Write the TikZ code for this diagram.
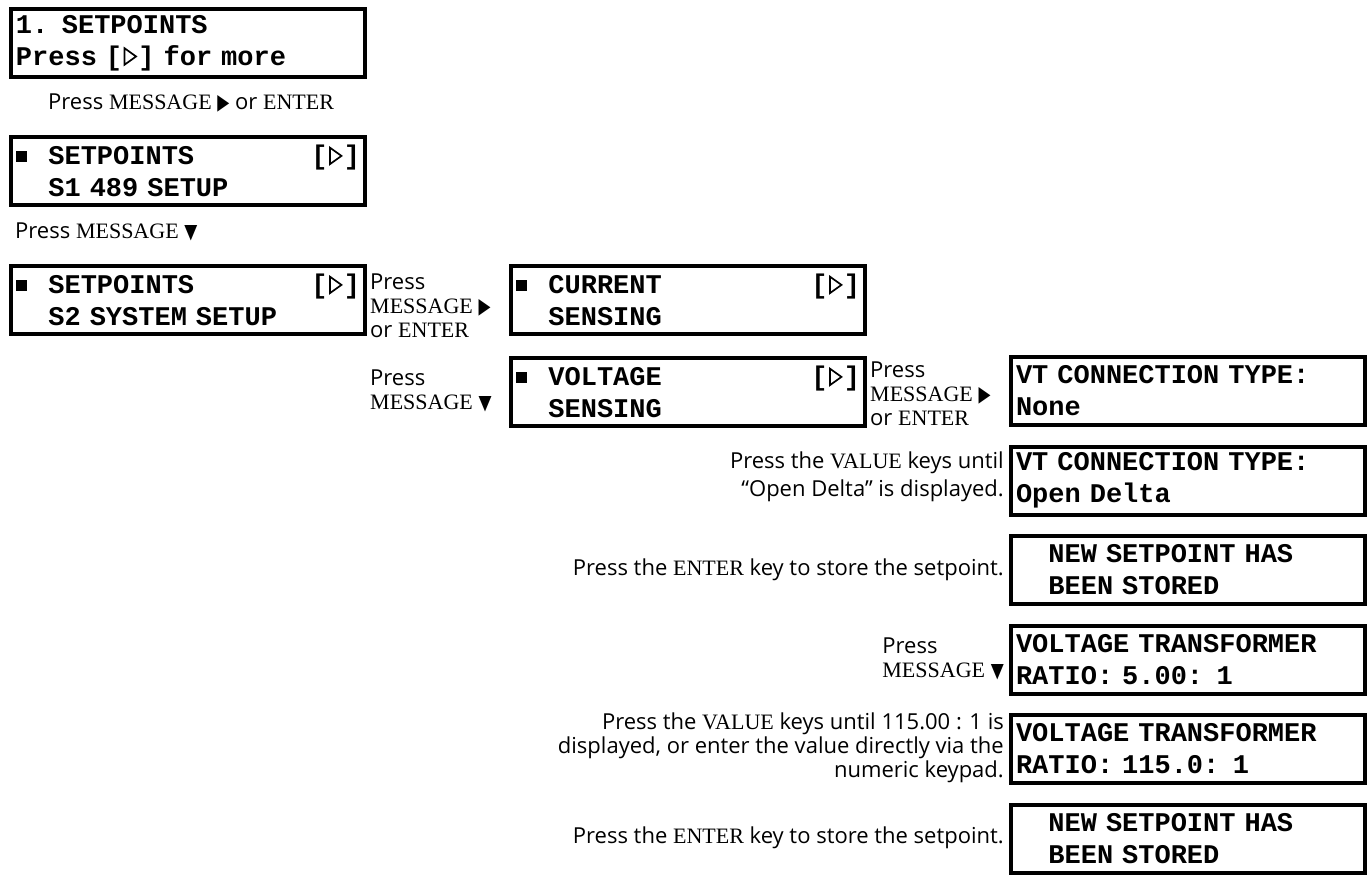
\documentclass[tikz,border=0pt]{standalone}
\usepackage{fontspec}
\usepackage{graphicx}
\setmainfont{Liberation Serif}
\setsansfont{Open Sans}
\setmonofont{Liberation Mono}
\newfontfamily\symfont{DejaVu Sans}
\newcommand{\keyname}[1]{{\rmfamily #1}}
\newcommand{\rtri}{\resizebox{12pt}{14pt}{\symfont ▶}}
\newcommand{\dtri}{\resizebox{13pt}{13pt}{\symfont ▼}}
\newcommand{\otri}{\makebox[0.6em]{\tikz[baseline=0pt,x=1pt,y=1pt]\draw[line width=1.7pt,line join=miter] (0,0.5) -- (0,17) -- (11.5,8.75) -- cycle;}}
\newcommand{\blk}{\makebox[1.2em][l]{\rule[0.1em]{0.4em}{0.4em}}}
\newcommand{\ind}{\hspace*{1.2em}}

\begin{document}
\begin{tikzpicture}[x=1pt,y=-1pt,
  lcd/.style={draw,line width=4pt,anchor=north west,minimum width=354pt,minimum height=68pt,
    inner xsep=5pt,text width=344pt,align=left,font=\ttfamily\bfseries\fontsize{27}{32}\selectfont},
  lbl/.style={inner sep=0pt,font=\sffamily\fontsize{22}{24}\selectfont}]
  \useasboundingbox (0,0) rectangle (1369,875);
  % left column
  \node[lcd] (top) at (9,7) {1. SETPOINTS\\Press [\otri] for more};
  \node[lbl,anchor=west] (go1) at (48,103) {Press \keyname{MESSAGE} \rtri{} or \keyname{ENTER}};
  \node[lcd] (s1) at (9,135) {\blk SETPOINTS\hfill[\otri]\\\ind S1 489 SETUP};
  \node[lbl,anchor=west] (go2) at (15,232) {Press \keyname{MESSAGE} \dtri};
  \node[lcd] (s2) at (9,264) {\blk SETPOINTS\hfill[\otri]\\\ind S2 SYSTEM SETUP};
  % middle column
  \node[lbl,anchor=west,align=left] (go3) at (370,306) {Press\\\keyname{MESSAGE} \rtri\\or \keyname{ENTER}};
  \node[lcd] (cur) at (509,264) {\blk CURRENT\hfill[\otri]\\\ind SENSING};
  \node[lbl,anchor=west,align=left] (go4) at (370,391) {Press\\\keyname{MESSAGE} \dtri};
  \node[lcd] (volt) at (509,356) {\blk VOLTAGE\hfill[\otri]\\\ind SENSING};
  \node[lbl,anchor=west,align=left] (go5) at (870,394) {Press\\\keyname{MESSAGE} \rtri\\or \keyname{ENTER}};
  % right column
  \node[lcd] (vt1) at (1009,355) {VT CONNECTION TYPE:\\None};
  \node[lbl,anchor=east,align=right,font=\sffamily\fontsize{22}{28}\selectfont] (go6) at (1004,477)
    {Press the \keyname{VALUE} keys until\\“Open Delta” is displayed.};
  \node[lcd] (vt2) at (1009,444.5) {VT CONNECTION TYPE:\\Open Delta};
  \node[lbl,anchor=east] (go7) at (1004,570) {Press the \keyname{ENTER} key to store the setpoint.};
  \node[lcd] (new1) at (1009,534) {\ind NEW SETPOINT HAS\\\ind BEEN STORED};
  \node[lbl,anchor=east,align=left] (go8) at (1004,659) {Press\\\keyname{MESSAGE} \dtri};
  \node[lcd] (vtr1) at (1009,623.5) {VOLTAGE TRANSFORMER\\RATIO: 5.00: 1};
  \node[lbl,anchor=east,align=right] (go9) at (1004,748)
    {Press the \keyname{VALUE} keys until 115.00 : 1 is\\displayed, or enter the value directly via the\\numeric keypad.};
  \node[lcd] (vtr2) at (1009,713) {VOLTAGE TRANSFORMER\\RATIO: 115.0: 1};
  \node[lbl,anchor=east] (go10) at (1004,838) {Press the \keyname{ENTER} key to store the setpoint.};
  \node[lcd] (new2) at (1009,802.5) {\ind NEW SETPOINT HAS\\\ind BEEN STORED};
\end{tikzpicture}
\end{document}
